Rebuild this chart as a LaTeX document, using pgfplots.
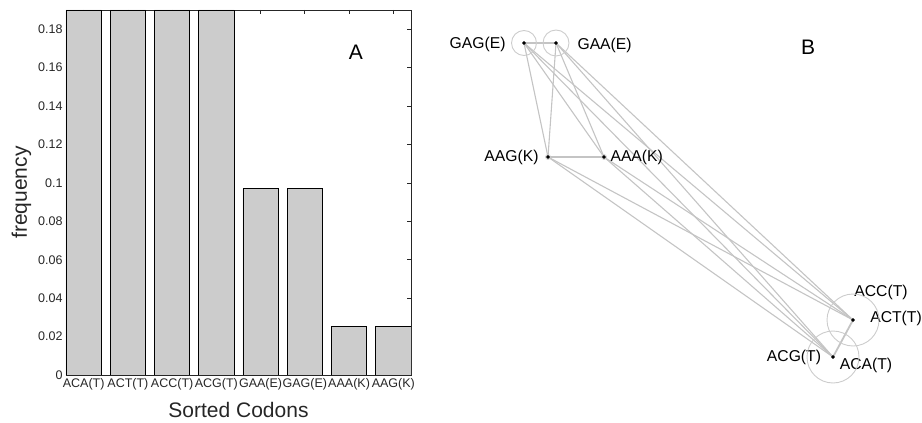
\documentclass[border=0pt]{standalone}
\usepackage{pgfplots}
\pgfplotsset{compat=1.18}
\usepackage{fontspec}
\setmainfont{Liberation Sans}
\definecolor{barfill}{HTML}{CCCCCC}
\definecolor{edgec}{HTML}{C4C4C4}
\definecolor{circc}{HTML}{CCCCCC}
\definecolor{axc}{HTML}{262626}
\newcommand\edge[3][1.1pt]{\addplot[edgec, line width=#1, forget plot] coordinates {#2 #3};}
\begin{document}
\begin{tikzpicture}
\path[use as bounding box] (0pt,0pt) rectangle (922pt,423pt);
% ---------- Panel B (network), in pixel coordinates ----------
\begin{axis}[name=net, at={(0pt,0pt)}, anchor=south west, scale only axis,
  width=922pt, height=423pt, xmin=0, xmax=922, ymin=0, ymax=423,
  y dir=reverse, hide axis, clip=false]
 % edges
 \edge{(524,43)}{(556,43)}
 \edge{(524,43)}{(548,157)}
 \edge{(524,43)}{(604,157)}
 \edge{(524,43)}{(853,320)}
 \edge{(524,43)}{(833,357)}
 \edge{(556,43)}{(548,157)}
 \edge{(556,43)}{(604,157)}
 \edge{(556,43)}{(853,320)}
 \edge{(556,43)}{(833,357)}
 \edge{(548,157)}{(604,157)}
 \edge{(548,157)}{(853,320)}
 \edge{(548,157)}{(833,357)}
 \edge{(604,157)}{(853,320)}
 \edge{(604,157)}{(833,357)}
 \edge[1.8pt]{(853,320)}{(833,357)}
 % self-loop circles
 \addplot[only marks, mark=o, mark size=12.5pt, circc, mark options={line width=0.9pt}] coordinates {(524,43)};
 \addplot[only marks, mark=o, mark size=13pt, circc, mark options={line width=0.9pt}] coordinates {(556,43)};
 \addplot[only marks, mark=o, mark size=26pt, circc, mark options={line width=0.9pt}] coordinates {(853,320)};
 \addplot[only marks, mark=o, mark size=26pt, circc, mark options={line width=0.9pt}] coordinates {(833,357)};
 \addplot[only marks, mark=o, mark size=2.5pt, circc, mark options={line width=0.7pt}] coordinates {(548,157) (604,157)};
 % nodes
 \addplot[only marks, mark=*, mark size=1.6pt, black] coordinates {(524,43) (556,43) (548,157) (604,157) (853,320) (833,357)};
 % labels
 \begin{scope}[font=\fontsize{15.7}{18}\selectfont, text=black]
 \node[anchor=east] at (axis cs:509,44) {GAG(E)};
 \node[anchor=west] at (axis cs:574,45) {GAA(E)};
 \node[anchor=east] at (axis cs:542,157) {AAG(K)};
 \node[anchor=west] at (axis cs:607,157) {AAA(K)};
 \node at (axis cs:881,292) {ACC(T)};
 \node at (axis cs:896,318) {ACT(T)};
 \node at (axis cs:794,357) {ACG(T)};
 \node at (axis cs:866,365) {ACA(T)};
 \end{scope}
 \node[font=\fontsize{21}{24}\selectfont] at (axis cs:808,47) {B};
\end{axis}
% ---------- Panel A (bar chart) ----------
\begin{axis}[at={(66pt,48pt)}, anchor=south west, scale only axis,
  width=345pt, height=365pt,
  xmin=0.6, xmax=8.4, ymin=0, ymax=0.19,
  ybar, bar width=0.8,
  xtick={1,2,3,4,5,6,7,8},
  xticklabels={ACA(T),ACT(T),ACC(T),ACG(T),GAA(E),GAG(E),AAA(K),AAG(K)},
  ytick={0,0.02,0.04,0.06,0.08,0.1,0.12,0.14,0.16,0.18},
  yticklabel style={/pgf/number format/fixed, /pgf/number format/precision=2},
  /pgf/number format/assume math mode=true,
  tick align=inside, major tick length=4pt,
  tick label style={font=\fontsize{12.5}{14}\selectfont, text=axc},
  xticklabel style={inner xsep=0pt},
  xlabel={Sorted Codons}, ylabel={frequency},
  label style={font=\fontsize{21}{24}\selectfont, text=axc},
  axis line style={axc, line width=0.8pt},
  tick style={axc, line width=0.7pt},
  xlabel style={yshift=-5pt}]
 \addplot[fill=barfill, draw=black, line width=0.8pt] coordinates {
  (1,0.19) (2,0.19) (3,0.19) (4,0.19) (5,0.0969) (6,0.0969) (7,0.0252) (8,0.0252)};
 \node[font=\fontsize{21}{24}\selectfont, text=black] at (rel axis cs:0.84,0.885) {A};
\end{axis}
\end{tikzpicture}
\end{document}
